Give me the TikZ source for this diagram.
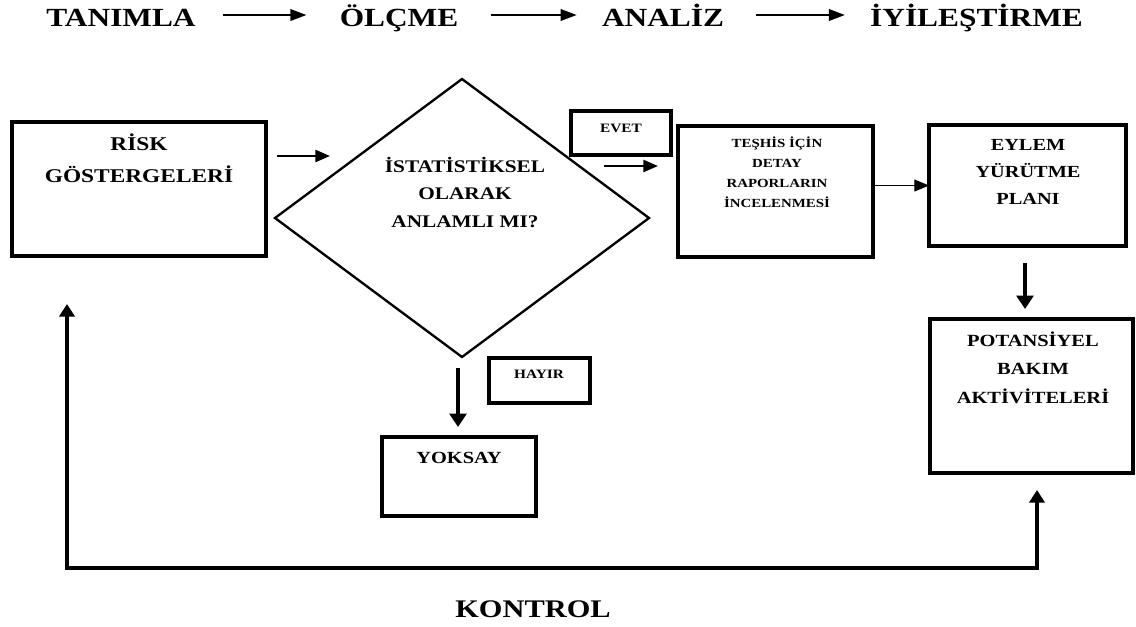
\documentclass[tikz,border=0pt]{standalone}
\usepackage{fontspec}
\setmainfont[FakeStretch=1.2]{Liberation Serif}
\usetikzlibrary{arrows.meta,shapes.geometric,calc}

\begin{document}
\begin{tikzpicture}[x=0.75pt,y=-0.75pt,
  box/.style={draw, line width=2.5pt, inner sep=0pt, outer sep=0pt},
  txt/.style={inner sep=0pt, align=center},
  toparrow/.style={line width=1.75pt, -{Triangle[length=12pt,width=8.5pt]}},
  midarrow/.style={line width=1.9pt, -{Triangle[length=11pt,width=9pt]}},
  thinarrow/.style={line width=0.9pt, -{Triangle[length=11pt,width=9pt]}},
  heavyarrow/.style={line width=2.5pt, -{Triangle[length=10pt,width=12.5pt]}},
  loopline/.style={line width=2.5pt, {Triangle[length=9.5pt,width=11.5pt]}-{Triangle[length=9.5pt,width=11.5pt]}}]
\useasboundingbox (0,0) rectangle (1136,626);

% phase headings
\begin{scope}[every node/.style={txt, anchor=base, font=\bfseries\fontsize{19.6}{24}\selectfont}]
  \node (p1) at (121,26) {TANIMLA};
  \node (p2) at (399,26) {ÖLÇME};
  \node (p3) at (663,26) {ANALİZ};
  \node (p4) at (976.5,26) {İYİLEŞTİRME};
\end{scope}
\coordinate (ph) at (0,15);
\draw[toparrow] ($(p1.east |- ph)+(27,0)$) -- ($(p2.west |- ph)+(-33,0)$);
\draw[toparrow] ($(p2.east |- ph)+(32,0)$) -- ($(p3.west |- ph)+(-25,0)$);
\draw[toparrow] ($(p3.east |- ph)+(32,0)$) -- ($(p4.west |- ph)+(-25,0)$);

% process boxes
\node[box, minimum width=190.5pt, minimum height=100.5pt] (risk) at (139,189) {};
\node[draw, diamond, line width=1.75pt, inner sep=0pt, outer sep=0pt, minimum width=280.5pt, minimum height=208.5pt] (dia) at (462,218) {};
\node[box, minimum width=75pt, minimum height=33pt] (evet) at (621,133) {};
\node[box, minimum width=146.25pt, minimum height=98.25pt] (teshis) at (775.5,191.5) {};
\node[box, minimum width=147.75pt, minimum height=90.75pt] (eylem) at (1027.5,185.5) {};
\node[box, minimum width=152.25pt, minimum height=115.5pt] (pot) at (1031.5,396) {};
\node[box, minimum width=75.75pt, minimum height=33.75pt] (hayir) at (539.5,380.5) {};
\node[box, minimum width=115.5pt, minimum height=59.25pt] (yoksay) at (459,476.5) {};

% box texts
\node[txt, font=\bfseries\fontsize{14.6}{24}\selectfont] (trisk) at (139,158.5) {RİSK\\GÖSTERGELERİ};
\node[txt, font=\bfseries\fontsize{13.3}{20.6}\selectfont] (tdia) at (465,192.5) {İSTATİSTİKSEL\\OLARAK\\ANLAMLI MI?};
\node[txt, anchor=base, font=\bfseries\fontsize{9.6}{12}\selectfont] (tevet) at (621,132) {EVET};
\node[txt, font=\bfseries\fontsize{9.3}{15}\selectfont] (tteshis) at (777,172.5) {TEŞHİS İÇİN\\DETAY\\RAPORLARIN\\İNCELENMESİ};
\node[txt, font=\bfseries\fontsize{12.7}{20}\selectfont] (teylem) at (1028,172) {EYLEM\\YÜRÜTME\\PLANI};
\node[txt, font=\bfseries\fontsize{12.8}{21.4}\selectfont] (tpot) at (1033,367.5) {POTANSİYEL\\BAKIM\\AKTİVİTELERİ};
\node[txt, anchor=base, font=\bfseries\fontsize{9.6}{12}\selectfont] (thayir) at (539,378) {HAYIR};
\node[txt, anchor=base, font=\bfseries\fontsize{12.75}{16}\selectfont] (tyoksay) at (459,463.5) {YOKSAY};
\node[txt, anchor=base, font=\bfseries\fontsize{19}{24}\selectfont] (kontrol) at (533,617) {KONTROL};

% flow arrows
\draw[midarrow] ($(risk.east)+(11,-33)$) -- ($(dia.west)+(55,-62)$);
\draw[midarrow] ($(evet.south west)+(33,11)$) -- ($(teshis.west)+(-20,-25.5)$);
\draw[thinarrow] (teshis.east |- eylem.west) -- (eylem.west);
\draw[heavyarrow] ($(eylem.south)+(-2.5,17)$) -- ($(pot.north)+(-6.5,-10)$);
\draw[heavyarrow] ($(dia.south)+(-4,11)$) -- ($(yoksay.north)+(-1,-10)$);

% feedback loop
\coordinate (kl) at ($(risk.south west)+(55,48)$);
\coordinate (kr) at ($(pot.south)+(5.5,17)$);
\coordinate (kb) at (0,568);
\draw[loopline] (kl) -- (kl |- kb) -- (kr |- kb) -- (kr);
\end{tikzpicture}
\end{document}
